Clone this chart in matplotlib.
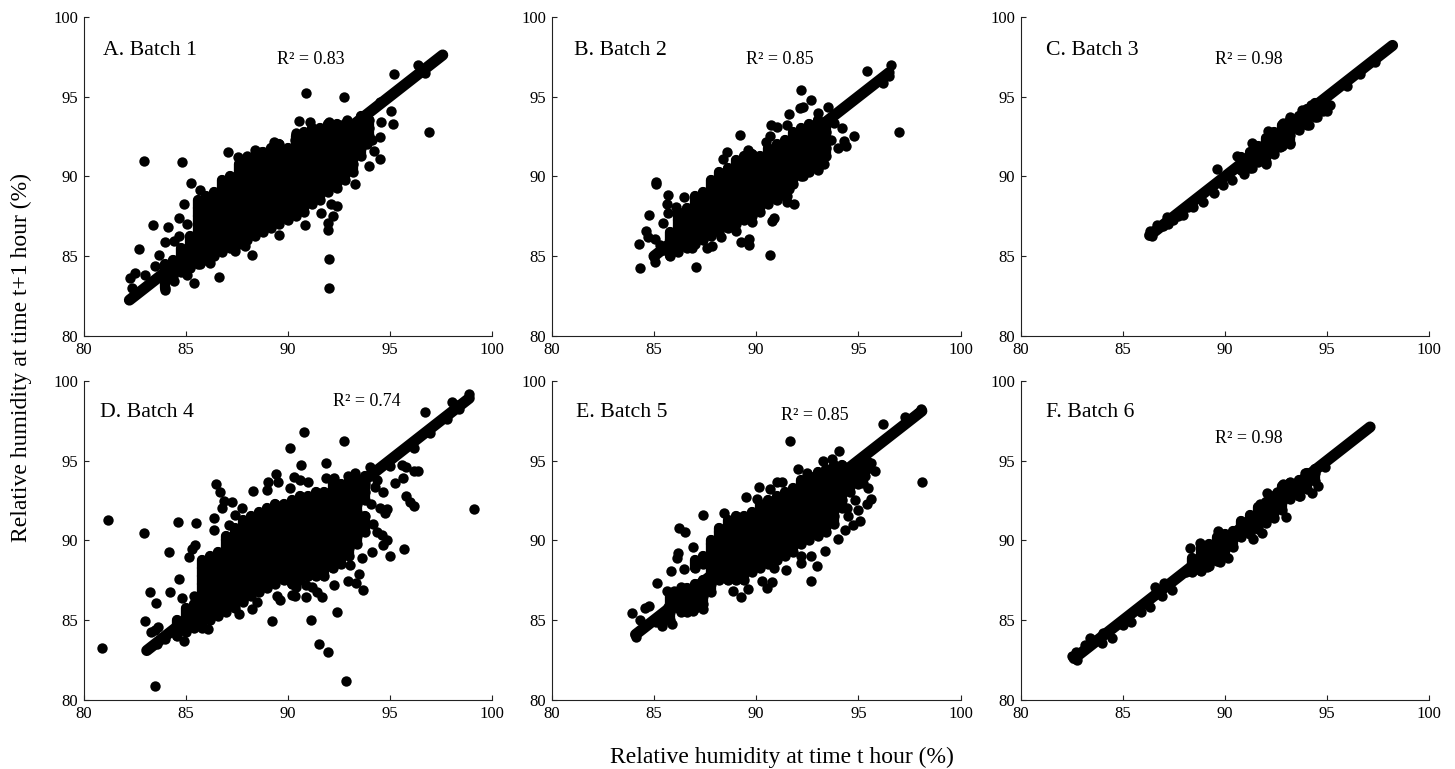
import matplotlib
matplotlib.use("Agg")
import matplotlib.pyplot as plt

# Values. Band = points on the t / t+1 diagonal,
# cols = x position and its y values inside the saturated cloud, extra = single visible points
band_a = [82.25, 82.5, 82.75, 83.0, 83.25, 83.5, 83.75, 84.0, 84.25, 84.5, 84.75, 85.0, 85.25, 85.5, 85.75,
          86.0, 86.25, 86.5, 86.75, 87.0, 87.25, 87.5, 87.75, 88.0, 88.25, 88.5, 88.75, 89.0, 89.25, 89.5,
          89.75, 90.0, 90.25, 90.5, 90.75, 91.0, 91.25, 91.5, 91.75, 92.0, 92.25, 92.5, 92.75, 93.0, 93.25,
          93.5, 93.75, 94.0, 94.25, 94.5, 94.75, 95.0, 95.25, 95.5, 95.75, 96.0, 96.25, 96.5, 96.75, 97.0,
          97.25, 97.5, 97.6]
band_b = [85.0, 85.25, 85.5, 85.75, 86.0, 86.25, 86.5, 86.75, 87.0, 87.25, 87.5, 87.75, 88.0, 88.25, 88.5,
          88.75, 89.0, 89.25, 89.5, 89.75, 90.0, 90.25, 90.5, 90.75, 91.0, 91.25, 91.5, 91.75, 92.0, 92.25,
          92.5, 92.75, 93.0, 93.25, 93.5, 93.75, 94.0, 94.25, 94.5, 94.75, 95.0, 95.25, 95.5, 95.75, 96.0,
          96.25, 96.5]
band_c = [86.3, 86.5, 86.75, 87.0, 87.25, 87.5, 87.75, 88.0, 88.25, 88.5, 88.75, 89.0, 89.25, 89.5, 89.75,
          90.0, 90.25, 90.5, 90.75, 91.0, 91.25, 91.5, 91.75, 92.0, 92.25, 92.5, 92.75, 93.0, 93.25, 93.5,
          93.75, 94.0, 94.25, 94.5, 94.75, 95.0, 95.25, 95.5, 95.75, 96.0, 96.25, 96.5, 96.75, 97.0, 97.25,
          97.5, 97.75, 98.0, 98.2]
band_d = [83.1, 83.25, 83.5, 83.75, 84.0, 84.25, 84.5, 84.75, 85.0, 85.25, 85.5, 85.75, 86.0, 86.25, 86.5,
          86.75, 87.0, 87.25, 87.5, 87.75, 88.0, 88.25, 88.5, 88.75, 89.0, 89.25, 89.5, 89.75, 90.0, 90.25,
          90.5, 90.75, 91.0, 91.25, 91.5, 91.75, 92.0, 92.25, 92.5, 92.75, 93.0, 93.25, 93.5, 93.75, 94.0,
          94.25, 94.5, 94.75, 95.0, 95.25, 95.5, 95.75, 96.0, 96.25, 96.5, 96.75, 97.0, 97.25, 97.5, 97.75,
          98.0, 98.25, 98.5, 98.75, 98.9]
band_e = [84.1, 84.25, 84.5, 84.75, 85.0, 85.25, 85.5, 85.75, 86.0, 86.25, 86.5, 86.75, 87.0, 87.25, 87.5,
          87.75, 88.0, 88.25, 88.5, 88.75, 89.0, 89.25, 89.5, 89.75, 90.0, 90.25, 90.5, 90.75, 91.0, 91.25,
          91.5, 91.75, 92.0, 92.25, 92.5, 92.75, 93.0, 93.25, 93.5, 93.75, 94.0, 94.25, 94.5, 94.75, 95.0,
          95.25, 95.5, 95.75, 96.0, 96.25, 96.5, 96.75, 97.0, 97.25, 97.5, 97.75, 98.0, 98.1]
band_f = [82.6, 82.75, 83.0, 83.25, 83.5, 83.75, 84.0, 84.25, 84.5, 84.75, 85.0, 85.25, 85.5, 85.75, 86.0,
          86.25, 86.5, 86.75, 87.0, 87.25, 87.5, 87.75, 88.0, 88.25, 88.5, 88.75, 89.0, 89.25, 89.5, 89.75,
          90.0, 90.25, 90.5, 90.75, 91.0, 91.25, 91.5, 91.75, 92.0, 92.25, 92.5, 92.75, 93.0, 93.25, 93.5,
          93.75, 94.0, 94.25, 94.5, 94.75, 95.0, 95.25, 95.5, 95.75, 96.0, 96.25, 96.5, 96.75, 97.0, 97.1]

cols_a = [
    (84.0, [83.0, 83.5, 84.0, 84.5]),
    (84.4, [83.75, 84.25, 84.75]),
    (84.8, [84.0, 84.5, 85.0, 85.5]),
    (85.2, [84.25, 84.75, 85.25, 85.75, 86.25]),
    (85.6, [84.5, 85.0, 85.5, 86.0, 86.5, 87.0, 87.5, 88.0, 88.5]),
    (86.0, [84.75, 85.25, 85.75, 86.25, 86.75, 87.25, 87.75, 88.25, 88.75]),
    (86.4, [85.0, 85.5, 86.0, 86.5, 87.0, 87.5, 88.0, 88.5, 89.0]),
    (86.8, [85.25, 85.75, 86.25, 86.75, 87.25, 87.75, 88.25, 88.75, 89.25, 89.75]),
    (87.2, [85.5, 86.0, 86.5, 87.0, 87.5, 88.0, 88.5, 89.0, 89.5, 90.0]),
    (87.6, [85.75, 86.25, 86.75, 87.25, 87.75, 88.25, 88.75, 89.25, 89.75, 90.25, 90.75]),
    (88.0, [86.0, 86.5, 87.0, 87.5, 88.0, 88.5, 89.0, 89.5, 90.0, 90.5, 91.0]),
    (88.4, [86.25, 86.75, 87.25, 87.75, 88.25, 88.75, 89.25, 89.75, 90.25, 90.75, 91.25]),
    (88.8, [86.5, 87.0, 87.5, 88.0, 88.5, 89.0, 89.5, 90.0, 90.5, 91.0, 91.5]),
    (89.2, [86.75, 87.25, 87.75, 88.25, 88.75, 89.25, 89.75, 90.25, 90.75, 91.25, 91.75]),
    (89.6, [87.0, 87.5, 88.0, 88.5, 89.0, 89.5, 90.0, 90.5, 91.0, 91.5, 92.0]),
    (90.0, [87.25, 87.75, 88.25, 88.75, 89.25, 89.75, 90.25, 90.75, 91.25, 91.75]),
    (90.4, [87.5, 88.0, 88.5, 89.0, 89.5, 90.0, 90.5, 91.0, 91.5, 92.0, 92.5]),
    (90.8, [87.75, 88.25, 88.75, 89.25, 89.75, 90.25, 90.75, 91.25, 91.75, 92.25, 92.75]),
    (91.2, [88.25, 88.75, 89.25, 89.75, 90.25, 90.75, 91.25, 91.75, 92.25, 92.75, 93.0]),
    (91.6, [88.5, 89.0, 89.5, 90.0, 90.5, 91.0, 91.5, 92.0, 92.5, 93.0]),
    (92.0, [89.0, 89.5, 90.0, 90.5, 91.0, 91.5, 92.0, 92.5, 93.0, 93.25]),
    (92.4, [89.25, 89.75, 90.25, 90.75, 91.25, 91.75, 92.25, 92.75, 93.25]),
    (92.8, [89.75, 90.25, 90.75, 91.25, 91.75, 92.25, 92.75, 93.25]),
    (93.2, [90.25, 90.75, 91.25, 91.75, 92.25, 92.75, 93.25]),
    (93.6, [91.25, 91.75, 92.25, 92.75, 93.25, 93.75]),
    (94.0, [92.5, 93.0, 93.5]),
]
extra_a = [(82.97, 90.98), (84.83, 90.88), (90.89, 95.24), (92.75, 94.95), (95.2, 96.4), (96.93, 92.8),
           (92.03, 84.84), (92.05, 82.99), (92.0, 86.64), (86.66, 83.7), (85.4, 83.34), (88.25, 85.1),
           (90.84, 86.93), (82.74, 85.43), (83.4, 86.93), (84.15, 86.8), (83.97, 85.9), (85.26, 89.6),
           (84.93, 88.27), (85.7, 89.14), (87.1, 91.55), (82.3, 83.65), (82.5, 83.95), (82.4, 83.0),
           (83.0, 83.85), (83.5, 84.4), (83.7, 85.1), (84.45, 85.95), (84.7, 86.25), (84.7, 87.4),
           (85.05, 87.0), (87.55, 91.2), (88.0, 91.25), (88.4, 91.65), (88.7, 91.55), (89.35, 92.15),
           (90.35, 92.25), (90.55, 93.45), (91.1, 93.4), (92.05, 93.4), (93.9, 92.05), (94.15, 92.3),
           (94.55, 92.45), (94.25, 91.6), (94.55, 91.1), (94.0, 90.65), (93.3, 89.5), (95.05, 94.1),
           (95.15, 93.3), (94.6, 93.4), (92.4, 88.15), (92.15, 88.25), (91.65, 87.7), (92.2, 87.5),
           (92.0, 87.1), (89.6, 86.3), (87.9, 85.65), (87.4, 85.3), (86.2, 84.6), (85.7, 84.5),
           (85.05, 83.8), (84.45, 83.45), (84.0, 82.85), (96.4, 97.0), (96.75, 96.5), (90.4, 92.7),
           (92.9, 93.5), (94.55, 94.65)]

cols_b = [
    (85.8, [85.0, 85.5, 86.0, 86.5]),
    (86.2, [85.25, 85.75, 86.25, 86.75, 87.25, 87.75]),
    (86.6, [85.5, 86.0, 86.5, 87.0, 87.5, 88.0]),
    (87.0, [85.75, 86.25, 86.75, 87.25, 87.75, 88.25, 88.75]),
    (87.4, [86.0, 86.5, 87.0, 87.5, 88.0, 88.5, 89.0]),
    (87.8, [86.25, 86.75, 87.25, 87.75, 88.25, 88.75, 89.25, 89.75]),
    (88.2, [86.5, 87.0, 87.5, 88.0, 88.5, 89.0, 89.5, 90.0, 90.25]),
    (88.6, [86.75, 87.25, 87.75, 88.25, 88.75, 89.25, 89.75, 90.25, 90.5]),
    (89.0, [87.0, 87.5, 88.0, 88.5, 89.0, 89.5, 90.0, 90.5, 91.0]),
    (89.4, [87.25, 87.75, 88.25, 88.75, 89.25, 89.75, 90.25, 90.75, 91.25]),
    (89.8, [87.5, 88.0, 88.5, 89.0, 89.5, 90.0, 90.5, 91.0, 91.4]),
    (90.2, [87.75, 88.25, 88.75, 89.25, 89.75, 90.25, 90.75, 91.25]),
    (90.6, [88.25, 88.75, 89.25, 89.75, 90.25, 90.75, 91.25, 91.75]),
    (91.0, [88.5, 89.0, 89.5, 90.0, 90.5, 91.0, 91.5, 92.0]),
    (91.4, [88.75, 89.25, 89.75, 90.25, 90.75, 91.25, 91.75, 92.25]),
    (91.8, [89.5, 90.0, 90.5, 91.0, 91.5, 92.0, 92.5, 92.75]),
    (92.2, [90.0, 90.5, 91.0, 91.5, 92.0, 92.5, 93.0]),
    (92.6, [90.25, 90.75, 91.25, 91.75, 92.25, 92.75, 93.25]),
    (93.0, [90.5, 91.0, 91.5, 92.0, 92.5, 93.0, 93.5]),
    (93.4, [91.25, 91.75, 92.25, 92.75, 93.25]),
]
extra_b = [(85.09, 89.5), (85.12, 89.65), (85.7, 88.83), (85.66, 88.27), (86.45, 88.73), (84.74, 87.58),
           (84.25, 85.78), (84.32, 84.28), (87.06, 84.34), (90.68, 85.05), (89.22, 92.6), (92.18, 95.4),
           (92.68, 94.76), (93.5, 94.36), (95.42, 96.6), (96.6, 97.0), (96.98, 92.75), (94.77, 92.5),
           (93.98, 91.75), (94.39, 91.9), (94.3, 92.2), (94.2, 93.05), (93.66, 92.3), (93.3, 90.8),
           (91.85, 88.27), (91.5, 88.37), (90.76, 87.2), (90.89, 87.37), (89.63, 85.7), (89.24, 85.9),
           (89.63, 86.05), (89.0, 86.6), (87.84, 85.64), (87.58, 85.53), (86.88, 85.5), (84.63, 86.58),
           (84.73, 86.18), (85.07, 86.05), (85.43, 87.1), (85.7, 87.68), (86.1, 88.1), (91.62, 93.88),
           (92.14, 94.26), (92.3, 94.32), (93.0, 93.99), (90.73, 93.2), (91.0, 93.1), (91.5, 93.2),
           (90.68, 92.5), (90.48, 92.17), (88.56, 91.5), (88.36, 91.06), (89.6, 91.65), (85.0, 84.97),
           (85.05, 84.65), (85.3, 85.7), (85.5, 85.4), (96.5, 96.3), (96.2, 95.85), (93.8, 93.35),
           (89.8, 87.15), (88.3, 86.2), (93.0, 90.4), (92.3, 90.0), (91.6, 89.2), (91.5, 88.8)]

cols_c = [
    (90.8, [90.4, 90.9, 91.2]),
    (91.2, [90.5, 91.0, 91.5]),
    (91.6, [90.9, 91.4, 91.9]),
    (92.0, [90.9, 91.4, 91.9, 92.4]),
    (92.4, [91.4, 91.9, 92.4, 92.8]),
    (92.8, [91.9, 92.4, 92.9, 93.2]),
    (93.2, [92.1, 92.6, 93.1, 93.5]),
    (93.6, [92.9, 93.4, 93.8]),
    (94.0, [93.2, 93.7, 94.2]),
    (94.4, [93.7, 94.2, 94.6]),
    (94.8, [94.1, 94.6]),
]
extra_c = [(89.6, 90.48), (90.56, 91.3), (91.3, 92.1), (92.08, 92.86), (92.85, 93.36), (93.2, 93.7),
           (93.75, 94.15), (94.2, 94.5), (88.93, 88.4), (88.44, 88.1), (87.95, 87.58), (89.45, 88.98),
           (89.9, 89.46), (90.32, 89.77), (90.94, 90.15), (91.3, 90.54), (91.98, 90.8), (92.69, 91.86),
           (93.18, 92.0), (94.1, 93.2), (94.48, 93.7), (94.97, 94.1), (95.13, 94.47), (95.95, 95.66),
           (96.6, 96.4), (97.34, 97.18), (87.46, 87.26), (86.97, 86.9), (86.65, 86.95), (87.13, 87.47),
           (86.3, 86.4), (86.4, 86.26), (86.3, 86.6), (87.2, 87.0), (87.7, 87.5), (88.2, 88.05)]

cols_f = [
    (88.4, [88.0, 88.5, 88.9]),
    (88.8, [88.1, 88.6, 89.1, 89.6]),
    (89.2, [88.4, 88.9, 89.4, 89.8]),
    (89.6, [88.7, 89.2, 89.7, 90.2]),
    (90.0, [89.0, 89.5, 90.0, 90.4]),
    (90.4, [89.6, 90.1, 90.6]),
    (90.8, [90.2, 90.7, 91.2]),
    (91.2, [90.4, 90.9, 91.4, 91.6]),
    (91.6, [90.7, 91.2, 91.7, 92.1]),
    (92.0, [91.1, 91.6, 92.1, 92.4]),
    (92.4, [91.4, 91.9, 92.4, 92.8]),
    (92.8, [91.9, 92.4, 92.9, 93.4]),
    (93.2, [92.6, 93.1, 93.6]),
    (93.6, [92.8, 93.3, 93.8]),
    (94.0, [93.2, 93.7, 94.2]),
    (94.4, [93.7, 94.2, 94.5]),
]
extra_f = [(92.03, 92.98), (92.96, 91.48), (94.24, 92.98), (94.56, 93.42), (88.28, 89.5), (88.77, 89.85),
           (89.67, 90.6), (89.1, 88.35), (89.75, 88.66), (90.15, 88.91), (91.38, 90.08), (91.8, 90.48),
           (92.85, 93.53), (93.18, 93.63), (93.9, 94.2), (93.67, 92.8), (92.52, 93.05), (91.7, 92.3),
           (94.9, 94.6), (87.38, 86.9), (86.9, 86.5), (86.56, 87.1), (86.3, 85.85), (85.9, 85.5),
           (85.4, 84.9), (84.44, 83.86), (83.95, 83.55), (83.38, 83.86), (82.7, 83.0), (82.75, 82.5),
           (82.48, 82.75), (83.13, 83.45), (84.0, 84.2), (85.0, 84.7), (87.0, 87.3), (88.1, 88.04)]

cols_d = [
    (84.6, [84.0, 84.5, 85.0]),
    (85.0, [84.25, 84.75, 85.25, 85.75]),
    (85.4, [84.5, 85.0, 85.5, 86.0]),
    (85.8, [84.75, 85.25, 85.75, 86.25, 86.75, 87.25, 87.75, 88.25, 88.75]),
    (86.2, [85.0, 85.5, 86.0, 86.5, 87.0, 87.5, 88.0, 88.5, 89.0]),
    (86.6, [85.25, 85.75, 86.25, 86.75, 87.25, 87.75, 88.25, 88.75, 89.25]),
    (87.0, [85.5, 86.0, 86.5, 87.0, 87.5, 88.0, 88.5, 89.0, 89.5, 90.0, 90.25]),
    (87.4, [85.75, 86.25, 86.75, 87.25, 87.75, 88.25, 88.75, 89.25, 89.75, 90.25, 90.75]),
    (87.8, [86.25, 86.75, 87.25, 87.75, 88.25, 88.75, 89.25, 89.75, 90.25, 90.75, 91.25]),
    (88.2, [86.5, 87.0, 87.5, 88.0, 88.5, 89.0, 89.5, 90.0, 90.5, 91.0, 91.5]),
    (88.6, [86.75, 87.25, 87.75, 88.25, 88.75, 89.25, 89.75, 90.25, 90.75, 91.25, 91.75]),
    (89.0, [87.0, 87.5, 88.0, 88.5, 89.0, 89.5, 90.0, 90.5, 91.0, 91.5, 92.0]),
    (89.4, [87.25, 87.75, 88.25, 88.75, 89.25, 89.75, 90.25, 90.75, 91.25, 91.75, 92.25]),
    (89.8, [87.5, 88.0, 88.5, 89.0, 89.5, 90.0, 90.5, 91.0, 91.5, 92.0, 92.25]),
    (90.2, [87.25, 87.75, 88.25, 88.75, 89.25, 89.75, 90.25, 90.75, 91.25, 91.75, 92.25, 92.5]),
    (90.6, [87.5, 88.0, 88.5, 89.0, 89.5, 90.0, 90.5, 91.0, 91.5, 92.0, 92.5, 92.75]),
    (91.0, [87.75, 88.25, 88.75, 89.25, 89.75, 90.25, 90.75, 91.25, 91.75, 92.25, 92.75]),
    (91.4, [87.75, 88.25, 88.75, 89.25, 89.75, 90.25, 90.75, 91.25, 91.75, 92.25, 92.75, 93.0]),
    (91.8, [87.75, 88.25, 88.75, 89.25, 89.75, 90.25, 90.75, 91.25, 91.75, 92.25, 92.75, 93.0]),
    (92.2, [88.25, 88.75, 89.25, 89.75, 90.25, 90.75, 91.25, 91.75, 92.25, 92.75, 93.25, 93.5]),
    (92.6, [88.5, 89.0, 89.5, 90.0, 90.5, 91.0, 91.5, 92.0, 92.5, 93.0, 93.5]),
    (93.0, [89.0, 89.5, 90.0, 90.5, 91.0, 91.5, 92.0, 92.5, 93.0, 93.5, 93.75]),
    (93.4, [89.75, 90.25, 90.75, 91.25, 91.75, 92.25, 92.75, 93.25, 93.75]),
    (93.8, [90.5, 91.0, 91.5, 92.5, 93.0, 93.5, 94.0]),
]
extra_d = [(80.9, 83.28), (81.18, 91.27), (82.97, 90.48), (83.49, 80.9), (92.87, 81.19), (91.97, 82.99),
           (91.54, 83.5), (92.44, 85.5), (91.13, 85.03), (89.24, 84.97), (99.15, 91.96), (95.72, 89.44),
           (96.75, 98.06), (92.78, 96.2), (90.82, 96.78), (90.1, 95.76), (90.64, 94.72), (91.9, 94.84),
           (98.04, 98.64), (98.9, 99.19), (83.0, 84.93), (83.27, 86.74), (83.54, 86.08), (84.24, 86.74),
           (84.2, 89.25), (84.67, 87.6), (84.64, 91.17), (85.5, 91.06), (84.82, 86.37), (85.39, 86.5),
           (85.18, 88.98), (85.3, 89.44), (85.47, 89.7), (84.93, 83.7), (83.67, 84.55), (83.3, 84.24),
           (83.5, 84.4), (86.47, 93.55), (86.68, 93.05), (86.4, 91.38), (86.37, 90.65), (86.9, 92.48),
           (86.78, 92.0), (87.28, 92.42), (87.12, 90.96), (87.4, 91.6), (87.76, 92.0), (88.3, 93.07),
           (88.98, 93.15), (89.06, 93.67), (89.44, 94.18), (89.55, 93.67), (90.29, 93.95), (90.12, 93.25),
           (91.02, 93.67), (90.6, 93.78), (91.89, 93.93), (92.28, 93.93), (92.98, 94.03), (93.31, 94.2),
           (94.04, 94.6), (95.25, 93.57), (95.67, 93.88), (95.59, 94.72), (95.79, 94.6), (96.4, 94.36),
           (96.2, 94.34), (95.79, 92.8), (96.2, 92.17), (96.0, 92.42), (94.86, 91.96), (94.53, 92.0),
           (94.09, 92.3), (94.76, 91.7), (94.2, 91.0), (94.61, 90.33), (94.69, 89.7), (95.02, 89.04),
           (94.12, 89.29), (93.63, 88.87), (93.52, 87.9), (92.98, 87.45), (93.35, 87.3), (93.68, 86.9),
           (93.06, 88.45), (92.29, 87.2), (91.67, 86.43), (91.43, 86.78), (90.9, 86.47), (90.37, 86.53),
           (90.2, 86.6), (89.63, 86.26), (89.5, 86.53), (87.6, 85.39), (88.25, 85.68), (88.49, 86.16),
           (87.8, 86.12), (86.09, 84.45), (85.8, 84.49), (94.29, 93.36), (94.69, 93.05), (94.4, 93.8),
           (94.85, 90.0), (94.4, 90.5), (84.4, 84.35), (84.0, 83.8), (83.6, 83.5), (98.4, 98.2),
           (97.8, 97.6), (98.3, 98.5), (97.0, 96.7), (96.2, 95.8), (95.0, 94.65), (90.9, 87.2),
           (91.2, 87.1), (90.4, 87.1)]

cols_e = [
    (85.4, [84.75, 85.25]),
    (85.8, [85.0, 85.5, 86.0, 86.5]),
    (86.2, [85.75, 86.25, 86.75]),
    (86.6, [85.5, 86.0, 86.5, 87.0]),
    (87.0, [85.75, 86.25, 86.75, 87.25, 88.25, 88.75]),
    (87.4, [86.0, 86.5, 87.0, 87.5, 88.5, 89.0]),
    (87.8, [86.75, 87.25, 87.75, 88.25, 88.75, 89.25, 89.75, 90.0]),
    (88.2, [87.5, 88.0, 88.5, 89.0, 89.5, 90.0, 90.5, 90.75]),
    (88.6, [87.5, 88.0, 88.5, 89.0, 89.5, 90.0, 90.5, 91.0, 91.25]),
    (89.0, [87.5, 88.0, 88.5, 89.0, 89.5, 90.0, 90.5, 91.0, 91.5]),
    (89.4, [87.5, 88.0, 88.5, 89.0, 89.5, 90.0, 90.5, 91.0, 91.5]),
    (89.8, [88.0, 88.5, 89.0, 89.5, 90.0, 90.5, 91.0, 91.5, 91.75]),
    (90.2, [88.25, 88.75, 89.25, 89.75, 90.25, 90.75, 91.25, 91.75, 92.25]),
    (90.6, [88.5, 89.0, 89.5, 90.0, 90.5, 91.0, 91.5, 92.0, 92.5]),
    (91.0, [88.75, 89.25, 89.75, 90.25, 90.75, 91.25, 91.75, 92.25, 92.75]),
    (91.4, [89.0, 89.5, 90.0, 90.5, 91.0, 91.5, 92.0, 92.5, 93.0]),
    (91.8, [89.25, 89.75, 90.25, 90.75, 91.25, 91.75, 92.25, 92.75, 93.25]),
    (92.2, [89.75, 90.25, 90.75, 91.25, 91.75, 92.25, 92.75, 93.25, 93.75]),
    (92.6, [90.0, 90.5, 91.0, 91.5, 92.0, 92.5, 93.0, 93.5, 94.0]),
    (93.0, [90.25, 90.75, 91.25, 91.75, 92.25, 92.75, 93.25, 93.75, 94.25]),
    (93.4, [90.5, 91.0, 91.5, 92.0, 92.5, 93.0, 93.5, 94.0, 94.5]),
    (93.8, [91.0, 91.5, 92.0, 92.5, 93.0, 93.5, 94.0, 94.5, 94.75]),
    (94.2, [92.0, 92.5, 93.0, 93.5, 94.0, 94.5, 94.75]),
    (94.6, [93.0, 93.5, 94.0, 94.5]),
    (95.0, [93.5, 94.0, 94.5, 95.0]),
    (95.4, [94.5, 95.0]),
]
extra_e = [(83.94, 85.43), (84.56, 85.74), (84.76, 85.9), (84.32, 85.01), (84.12, 83.97), (85.9, 84.76),
           (85.13, 87.3), (85.62, 86.83), (85.82, 88.1), (86.47, 88.2), (86.11, 88.9), (86.18, 89.23),
           (86.23, 90.75), (86.52, 90.54), (86.93, 89.6), (87.42, 91.6), (88.41, 91.7), (89.5, 92.69),
           (90.15, 93.32), (90.02, 92.57), (90.68, 93.2), (91.0, 93.67), (91.25, 93.63), (91.65, 96.22),
           (92.05, 94.45), (92.47, 94.2), (93.25, 94.97), (93.72, 95.1), (94.07, 95.6), (96.22, 97.29),
           (97.28, 97.75), (98.13, 93.67), (95.81, 94.34), (95.45, 93.3), (95.6, 92.6), (95.44, 92.25),
           (94.83, 92.53), (95.0, 91.87), (95.08, 91.2), (94.75, 90.96), (94.43, 92.0), (94.5, 91.5),
           (94.02, 90.06), (93.37, 89.35), (94.34, 90.65), (92.2, 88.56), (92.69, 89.04), (92.96, 88.41),
           (92.66, 87.43), (91.44, 88.14), (90.89, 88.25), (90.27, 87.45), (90.76, 87.4), (90.55, 87.03),
           (89.24, 86.47), (89.62, 86.95), (88.88, 86.83), (92.2, 89.05), (95.6, 94.85), (95.3, 94.0),
           (95.2, 93.6), (85.1, 84.9), (85.4, 84.65), (86.3, 87.1), (86.0, 86.8), (87.4, 85.7),
           (86.9, 85.6), (86.3, 85.5), (85.7, 85.85), (97.9, 97.95), (98.05, 98.2)]

label_text = ["A. Batch 1", "B. Batch 2", "C. Batch 3", "D. Batch 4", "E. Batch 5", "F. Batch 6"]
r2_text = ["R² = 0.83", "R² = 0.85", "R² = 0.98", "R² = 0.74", "R² = 0.85", "R² = 0.98"]
ticks = [80, 85, 90, 95, 100]

W, H = 1455, 769
plt.rcParams['font.family'] = ['Liberation Serif', 'DejaVu Serif']
fig = plt.figure(figsize=(W / 100, H / 100), dpi=100)

panels = [
    (band_a, cols_a, extra_a, (83.5, 491.7, 16.7, 336), (80.96, 97.9), (89.48, 97.29)),
    (band_b, cols_b, extra_b, (551.7, 960.7, 16.7, 336), (81.09, 97.9), (89.5, 97.29)),
    (band_c, cols_c, extra_c, (1021, 1429.3, 16.7, 336), (81.22, 97.9), (89.5, 97.29)),
    (band_d, cols_d, extra_d, (83.5, 491.7, 380.7, 700), (80.81, 98.0), (92.2, 98.67)),
    (band_e, cols_e, extra_e, (551.7, 960.7, 380.7, 700), (81.2, 98.0), (91.2, 97.8)),
    (band_f, cols_f, extra_f, (1021, 1429.3, 380.7, 700), (81.22, 98.0), (89.5, 96.4)),
]

for i, (band, cols, extra, box, lab, r2) in enumerate(panels):
    left, right, top, bottom = box
    ax = fig.add_axes([left / W, 1 - bottom / H, (right - left) / W, (bottom - top) / H])
    # the points overplot each other here, so close the gaps between them
    ax.plot(band, band, color='black', lw=8, solid_capstyle='round', clip_on=False)
    for x, col in cols:
        for y0, y1 in zip(col[:-1], col[1:]):
            if y1 - y0 <= 0.6:
                ax.plot([x, x], [y0, y1], color='black', lw=7.4, solid_capstyle='round')
    xs = [x for x, col in cols for y in col] + [p[0] for p in extra]
    ys = [y for x, col in cols for y in col] + [p[1] for p in extra]
    ax.scatter(xs, ys, s=56, c='black', linewidths=0, clip_on=False)
    ax.set_xlim(80, 100)
    ax.set_ylim(80, 100)
    ax.set_xticks(ticks)
    ax.set_yticks(ticks)
    ax.tick_params(direction='in', length=3.5, width=0.8, labelsize=12, pad=4, color='#222222')
    ax.spines['top'].set_visible(False)
    ax.spines['right'].set_visible(False)
    ax.spines['left'].set_color('#222222')
    ax.spines['bottom'].set_color('#222222')
    ax.text(lab[0], lab[1], label_text[i], fontsize=15.7, va='center')
    ax.text(r2[0], r2[1], r2_text[i], fontsize=13, va='center')

fig.text(21 / W, 1 - 358 / H, "Relative humidity at time t+1 hour (%)", rotation=90, fontsize=17,
         ha='center', va='center')
fig.text(782 / W, 1 - 757 / H, "Relative humidity at time t hour (%)", fontsize=17, ha='center', va='center')

fig.savefig("out.png", dpi=100)
plt.close()
